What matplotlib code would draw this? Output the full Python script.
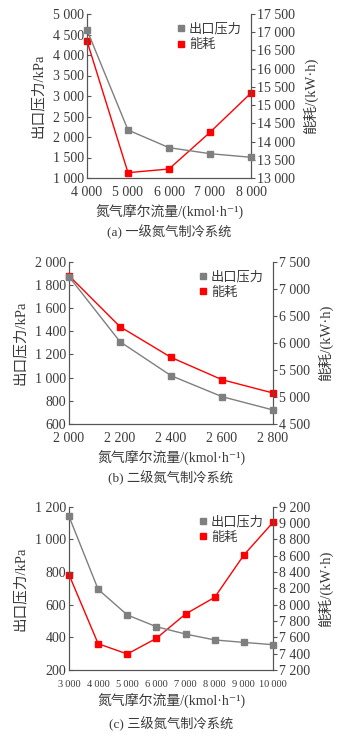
import matplotlib.pyplot as plt
from matplotlib.ticker import FuncFormatter

plt.rcParams['font.family'] = ['Liberation Serif', 'Noto Sans CJK SC', 'DejaVu Sans']

# (a) 一级
flow_a = [4000, 5000, 6000, 7000, 8000]
press_a = [4610, 2170, 1740, 1593, 1505]
energy_a = [16760, 13146, 13247, 14253, 15332]

# (b) 二级
flow_b = [2000, 2200, 2400, 2600, 2800]
press_b = [1871, 1310, 1017, 836, 721]
energy_b = [7241, 6299, 5732, 5319, 5073]

# (c) 三级
flow_c = [3000, 4000, 5000, 6000, 7000, 8000, 9000, 10000]
press_c = [1141, 694, 537, 465, 420, 384, 369, 355]
energy_c = [8367, 7522, 7396, 7588, 7886, 8090, 8608, 9008]

titles = ['(a) 一级氮气制冷系统', '(b) 二级氮气制冷系统', '(c) 三级氮气制冷系统']

GRAY = '#7f7f7f'
RED = '#ff0000'
TXT = '#3a3a3a'


def make_fmt(sep):
    def thousands(v, pos):
        v = int(round(v))
        if abs(v) >= 1000:
            return f'{v // 1000}{sep}{v % 1000:03d}'
        return str(v)
    return FuncFormatter(thousands)


fmt = make_fmt(' ')
fmt_thin = make_fmt('\u2009')

fig = plt.figure(figsize=(3.44, 7.34), dpi=100)

panels = [
    ([87 / 344, 1 - 178 / 734, 164 / 344, 164 / 734], flow_a, press_a, energy_a,
     (4000, 8000), (1000, 5000, 500), (13000, 17500, 500), range(4000, 8001, 1000)),
    ([69 / 344, 1 - 424 / 734, 204 / 344, 162.3 / 734], flow_b, press_b, energy_b,
     (2000, 2800), (600, 2000, 200), (4500, 7500, 500), range(2000, 2801, 200)),
    ([69 / 344, 1 - 670 / 734, 204 / 344, 163.3 / 734], flow_c, press_c, energy_c,
     (3000, 10000), (200, 1200, 200), (7200, 9200, 200), range(3000, 10001, 1000)),
]

for i, (rect, x, p, e, xl, yl, yr, xt) in enumerate(panels):
    ax = fig.add_axes(rect)
    ax2 = ax.twinx()
    l1, = ax.plot(x, p, color=GRAY, lw=1.0, marker='s', ms=4, clip_on=False, zorder=3)
    l2, = ax2.plot(x, e, color=RED, lw=1.0, marker='s', ms=4, clip_on=False, zorder=3)
    ax.set_xlim(*xl)
    ax.set_ylim(yl[0], yl[1])
    ax2.set_ylim(yr[0], yr[1])
    ax.set_yticks(range(yl[0], yl[1] + 1, yl[2]))
    ax2.set_yticks(range(yr[0], yr[1] + 1, yr[2]))
    ax.set_xticks(list(xt))
    for a in (ax, ax2):
        a.yaxis.set_major_formatter(fmt)
        a.xaxis.set_major_formatter(fmt)
        a.spines['top'].set_visible(False)
        for s in a.spines.values():
            s.set_color('#555555')
            s.set_linewidth(0.8)
        a.tick_params(labelsize=10, colors='#555555', labelcolor=TXT, width=0.8)
    ax.tick_params(axis='y', direction='in', length=3, pad=2)
    ax.tick_params(axis='x', length=0, pad=6)
    ax2.tick_params(axis='y', direction='out', length=3, pad=1)
    if i == 2:
        ax.xaxis.set_major_formatter(fmt_thin)
        ax.tick_params(axis='x', labelsize=7.5, pad=7)
    ax.set_ylabel('出口压力/kPa', fontsize=10.5, color=TXT, labelpad=6)
    ax2.set_ylabel('能耗/(kW·h)', fontsize=10.5, color=TXT, labelpad=6)
    ax.set_xlabel('氮气摩尔流量/(kmol·h⁻¹)', fontsize=10, color=TXT, labelpad=3)
    leg = ax.legend([l1, l2], ['出口压力', '能耗'], loc='upper right', frameon=False,
                    fontsize=9.5, handlelength=0.6, handletextpad=0.3,
                    borderaxespad=0.3, labelspacing=0.25,
                    labelcolor=TXT)
    for h in leg.legend_handles:
        h.set_linestyle('')
    ax.set_zorder(ax2.get_zorder() + 1)
    ax.patch.set_visible(False)
    ax.text(0.5, -0.33, titles[i], transform=ax.transAxes, ha='center', va='center',
            fontsize=9.5, color=TXT)

fig.savefig('out.png', dpi=100)
